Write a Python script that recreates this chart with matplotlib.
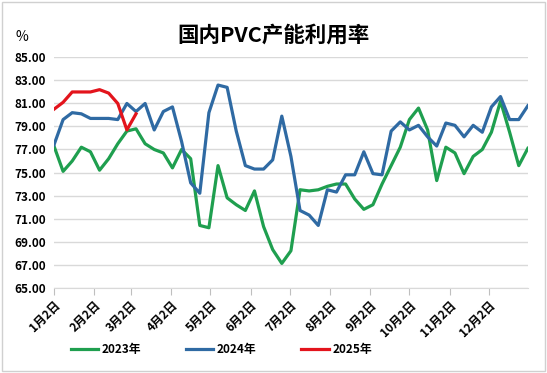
import matplotlib.pyplot as plt
import pandas as pd
from matplotlib.patches import Rectangle

plt.rcParams['font.family'] = ['Noto Sans CJK SC', 'DejaVu Sans']

# weekly dates (shown on a common month-day axis)
weeks = pd.date_range('2023-01-02', periods=53, freq='7D')

util_2023 = [77.3, 75.1, 76.0, 77.2, 76.8, 75.2, 76.2, 77.5, 78.6, 78.8,
             77.5, 77.0, 76.7, 75.4, 77.0, 76.2, 70.4, 70.2, 75.6, 72.8,
             72.2, 71.7, 73.4, 70.3, 68.3, 67.1, 68.2, 73.5, 73.4, 73.5,
             73.8, 74.0, 74.0, 72.7, 71.8, 72.2, 74.0, 75.6, 77.2, 79.6,
             80.6, 78.7, 74.3, 77.2, 76.7, 74.9, 76.4, 77.0, 78.5, 81.2,
             78.5, 75.6, 77.1]
util_2024 = [77.4, 79.6, 80.2, 80.1, 79.7, 79.7, 79.7, 79.6, 81.0, 80.3,
             81.0, 78.7, 80.3, 80.7, 77.7, 74.1, 73.2, 80.2, 82.6, 82.4,
             78.6, 75.6, 75.3, 75.3, 76.1, 79.9, 76.4, 71.7, 71.3, 70.4,
             73.5, 73.3, 74.8, 74.8, 76.8, 74.9, 74.8, 78.6, 79.4, 78.7,
             79.1, 78.1, 77.3, 79.3, 79.1, 78.1, 79.1, 78.5, 80.7, 81.6,
             79.6, 79.6, 80.8]
util_2025 = [80.5, 81.1, 82.0, 82.0, 82.0, 82.2, 81.9, 81.0, 78.7, 80.1]

tick_dates = pd.date_range('2023-01-01', periods=12, freq='MS') + pd.Timedelta(days=1)
tick_labels = ['1月2日', '2月2日', '3月2日', '4月2日', '5月2日', '6月2日',
               '7月2日', '8月2日', '9月2日', '10月2日', '11月2日', '12月2日']

fig = plt.figure(figsize=(5.47, 3.73), dpi=100)
ax = fig.add_axes([0.0987, 0.229, 0.8663, 0.617])

ax.plot(weeks, util_2023, color='#1f9f4f', lw=2.3, label='2023年')
ax.plot(weeks, util_2024, color='#2f6aa3', lw=2.3, label='2024年')
ax.plot(weeks[:len(util_2025)], util_2025, color='#e3141c', lw=2.3, label='2025年')

ax.set_ylim(65, 85)
ax.set_yticks(range(65, 86, 2))
ax.set_yticklabels([f'{v:.2f}' for v in range(65, 86, 2)], fontsize=8.5, fontweight='bold')
ax.set_xlim(weeks[0], weeks[-1])
ax.set_xticks(tick_dates)
ax.set_xticklabels(tick_labels, rotation=45, ha='right', va='top',
                   fontsize=8.5, fontweight='bold', rotation_mode='anchor')
ax.tick_params(axis='y', length=0, pad=6)
ax.tick_params(axis='x', length=5, color='#bfbfbf', pad=3)
ax.grid(axis='y', color='#d9d9d9', lw=1)
ax.set_axisbelow(True)
for s in ['top', 'right', 'left']:
    ax.spines[s].set_visible(False)
ax.spines['bottom'].set_color('#d9d9d9')

fig.text(0.5, 0.905, '国内PVC产能利用率', ha='center', va='center',
         fontsize=15.5, fontweight='bold')
fig.text(0.04, 0.9, '%', ha='center', va='center', fontsize=10)

fig.legend(loc='center', bbox_to_anchor=(0.405, 0.062), ncol=3, frameon=False,
           handlelength=2.3, columnspacing=3.8, handletextpad=0.3,
           prop={'size': 8.5, 'weight': 'bold'})

fig.patches.append(Rectangle((0.003, 0.005), 0.994, 0.99, transform=fig.transFigure,
                             fill=False, edgecolor='#d0d0d0', lw=1))

fig.savefig('out.png', dpi=100)
